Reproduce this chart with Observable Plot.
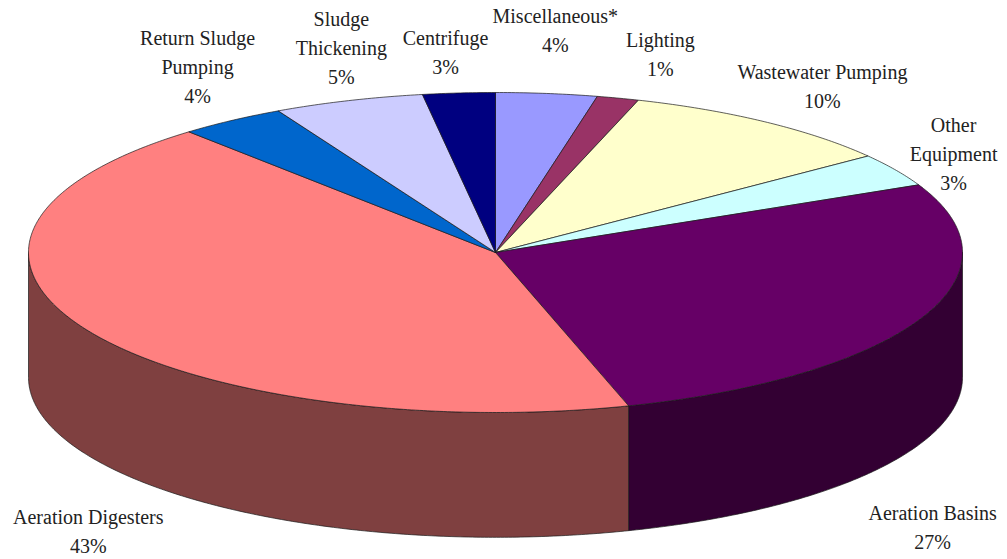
<!DOCTYPE html>
<html>
<head>
<meta charset="utf-8">
<script src="https://cdn.jsdelivr.net/npm/d3@7"></script>
<script src="https://cdn.jsdelivr.net/npm/@observablehq/plot@0.6"></script>
<style>
html,body{margin:0;padding:0;background:#fff}
svg{display:block}
</style>
</head>
<body>
<div id="chart"></div>
<script>
// Slice order runs clockwise from 12 o'clock.
const names = ["Miscellaneous*","Lighting","Wastewater Pumping","Other Equipment","Aeration Basins","Aeration Digesters","Return Sludge Pumping","Sludge Thickening","Centrifuge"];
// Slice sizes
const sliceSizes = [3.5,1.45,9.75,3.35,27.35,43.2,3.7,5.2,2.5];
// Printed labels
const labelTexts = ["Miscellaneous*\n4%","Lighting\n1%","Wastewater Pumping\n10%","Other\nEquipment\n3%","Aeration Basins\n27%","Aeration Digesters\n43%","Return Sludge\nPumping\n4%","Sludge\nThickening\n5%","Centrifuge\n3%"];
const topColors = ["#9999ff","#993366","#ffffcc","#ccffff","#660066","#ff8080","#0066cc","#ccccff","#000080"];
const wallColors = ["#4d4d80","#4d1a33","#808066","#668080","#330033","#7f4040","#003366","#666680","#000040"];
// Label anchors in pie units (1 = pie radius)
const labelX = [0.128,0.353,0.700,0.981,0.936,-0.872,-0.638,-0.330,-0.107];
const labelY = [1.378,1.228,1.028,0.606,-1.728,-1.753,1.150,1.269,1.241];
const depth = 0.78; // wall height in pie units

const W = 1007, H = 559, cx = 495, cy = 252, rx = 467, ry = 160;
const total = d3.sum(sliceSizes);
const ends = d3.cumsum(sliceSizes).map(v => v / total);
const starts = [0, ...ends.slice(0, -1)];
const at = f => ({px: Math.sin(2 * Math.PI * f), py: Math.cos(2 * Math.PI * f)});
const arc = (a, b) => {
  const n = Math.max(2, Math.ceil((b - a) * 720));
  return d3.range(n + 1).map(i => at(a + (b - a) * i / n));
};

const slicePoints = names.flatMap((name, i) => {
  const pts = [{px: 0, py: 0}, ...arc(starts[i], ends[i]), {px: 0, py: 0}];
  return pts.map(p => ({...p, name, color: topColors[i]}));
});

const wallPoints = names.flatMap((name, i) => {
  const a = Math.max(starts[i], 0.25), b = Math.min(ends[i], 0.75);
  if (b <= a) return [];
  const t = arc(a, b);
  const pts = [...t, ...t.slice().reverse().map(p => ({px: p.px, py: p.py - depth})), t[0]];
  return pts.map(p => ({...p, name, color: wallColors[i]}));
});

const labels = names.map((name, i) => ({name, text: labelTexts[i], x: labelX[i], y: labelY[i]}));

const chart = Plot.plot({
  width: W, height: H,
  margin: 0,
  style: {background: "#fff"},
  x: {axis: null, domain: [-cx / rx, (W - cx) / rx], range: [0, W]},
  y: {axis: null, domain: [(cy - H) / ry, cy / ry], range: [H, 0]},
  color: {type: "identity"},
  marks: [
    Plot.line(wallPoints, {x: "px", y: "py", z: "name", fill: "color", stroke: "#1a1a1a", strokeWidth: 0.7, strokeLinejoin: "round"}),
    Plot.line(slicePoints, {x: "px", y: "py", z: "name", fill: "color", stroke: "#1a1a1a", strokeWidth: 0.7, strokeLinejoin: "round"}),
    Plot.text(labels, {x: "x", y: "y", text: "text", fontSize: 20, fontFamily: "Liberation Serif", lineHeight: 1.45, fill: "#222", textAnchor: "middle", lineAnchor: "middle", dy: -3.5})
  ]
});
document.getElementById("chart").appendChild(chart);
</script>
</body>
</html>
